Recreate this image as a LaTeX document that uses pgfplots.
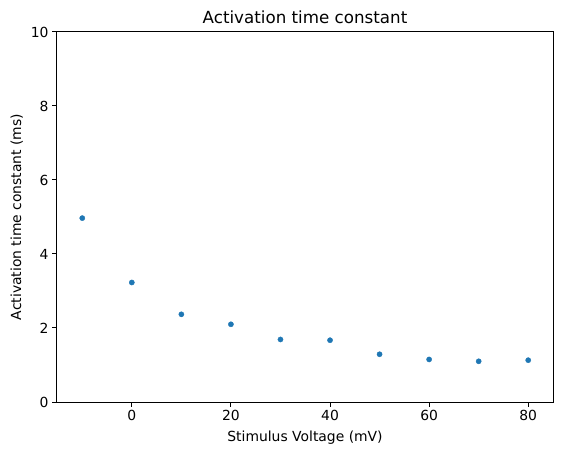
\documentclass[border=0pt]{standalone}
\usepackage{pgfplots}
\pgfplotsset{compat=1.18}
\usepackage{fontspec}
\setmainfont{DejaVu Sans}
\definecolor{mplblue}{HTML}{1F77B4}
\begin{document}
\begin{tikzpicture}
\useasboundingbox (-57pt,-53pt) rectangle (505pt,402pt);
\begin{axis}[
  at={(0,0)}, anchor=south west,
  scale only axis, width=496pt, height=370pt,
  xmin=-15.1, xmax=85.0, ymin=0, ymax=10,
  xtick={0,20,40,60,80}, ytick={0,2,4,6,8,10},
  tick align=outside, major tick length=4.9pt,
  tick style={black, line width=1.0pt},
  axis line style={line width=1.0pt},
  xtick pos=bottom, ytick pos=left,
  /pgf/number format/assume math mode=true,
  tick label style={font=\fontsize{13.9}{16}\selectfont},
  label style={font=\fontsize{13.9}{16}\selectfont},
  title style={font=\fontsize{16.7}{19}\selectfont, yshift=-1pt},
  title={Activation time constant},
  xlabel={Stimulus Voltage (mV)},
  ylabel={Activation time constant (ms)},
  xlabel style={yshift=-3pt},
  ylabel style={yshift=1pt},
]
\addplot[only marks, mark=*, mark size=2.6pt, color=mplblue, mark options={draw=mplblue, fill=mplblue}] coordinates {
(-10,4.97) (0,3.23) (10,2.37) (20,2.10) (30,1.69) (40,1.67) (50,1.29) (60,1.15) (70,1.10) (80,1.13)
};
\end{axis}
\end{tikzpicture}
\end{document}
